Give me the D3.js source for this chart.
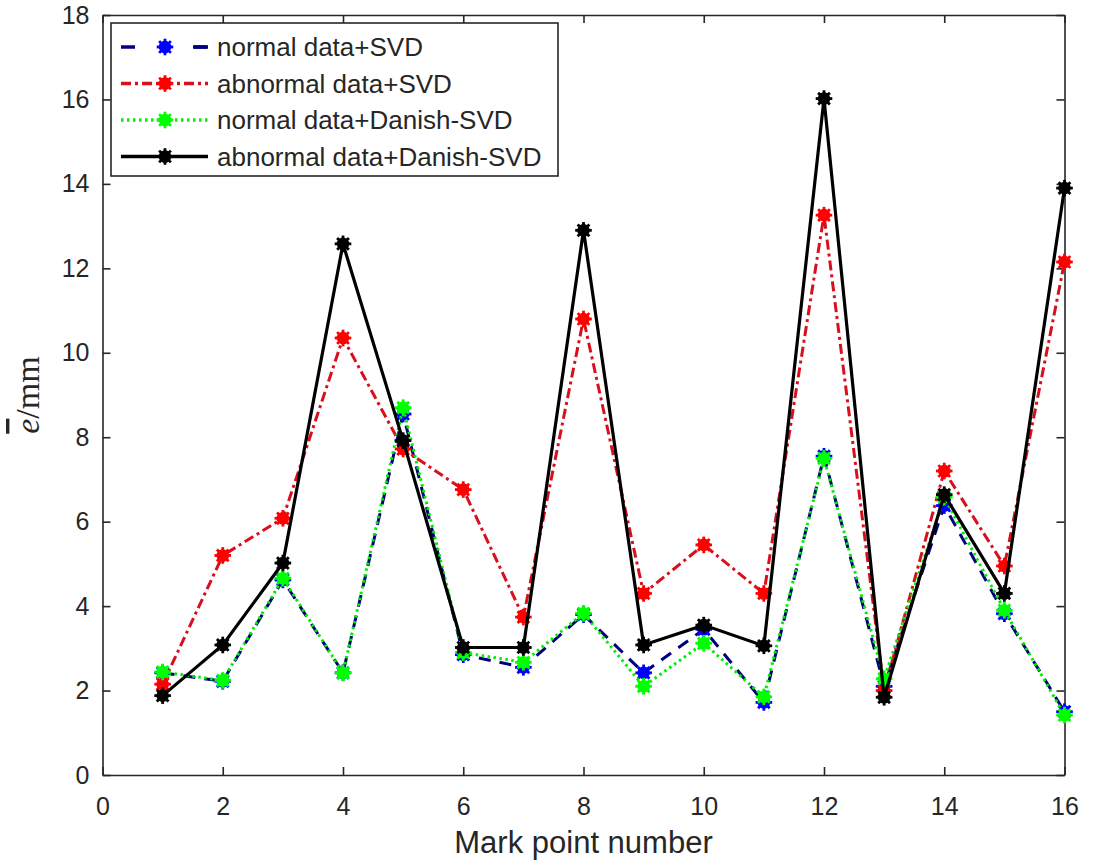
<!DOCTYPE html>
<html><head><meta charset="utf-8">
<script src="https://cdn.jsdelivr.net/npm/d3@7"></script>
<style>body{margin:0;background:#fff}</style>
</head><body>
<svg id="c" width="1099" height="867"></svg>
<script>
const points = [1,2,3,4,5,6,7,8,9,10,11,12,13,14,15,16];
const normalSVD = [2.42,2.22,4.62,2.42,8.55,2.85,2.55,3.8,2.42,3.45,1.72,7.55,2.1,6.38,3.82,1.5];
const abnormalSVD = [2.15,5.2,6.08,10.35,7.72,6.76,3.74,10.8,4.3,5.45,4.3,13.26,2.0,7.2,4.95,12.15];
const normalDanish = [2.44,2.24,4.66,2.42,8.7,2.9,2.67,3.83,2.1,3.12,1.85,7.5,2.28,6.58,3.9,1.42];
const abnormalDanish = [1.88,3.08,5.02,12.58,7.92,3.02,3.02,12.9,3.08,3.55,3.06,16.02,1.84,6.64,4.3,13.9];
const xTicks = [0,2,4,6,8,10,12,14,16];
const yTicks = [0,2,4,6,8,10,12,14,16,18];
const legendLabels = ["normal data+SVD","abnormal data+SVD","normal data+Danish-SVD","abnormal data+Danish-SVD"];

const svg = d3.select("#c");
const L=102.5, R=1064.5, T=15, B=775;
const x = d3.scaleLinear().domain([0,16]).range([L,R]);
const y = d3.scaleLinear().domain([0,18]).range([B,T]);
const axisCol="#262626", font="Liberation Sans, Arial, sans-serif";

const series = [
  {vals:normalSVD, line:"#00007f", mark:"#0000ff", dash:"12,9", w:3},
  {vals:abnormalSVD, line:"#d8101e", mark:"#ff0000", dash:"10,4,3,4", w:3},
  {vals:normalDanish, line:"#00ee00", mark:"#00ff00", dash:"2.5,3.5", w:3},
  {vals:abnormalDanish, line:"#000000", mark:"#000000", dash:null, w:3.2}
];

// axes frame with inward ticks
const ax = svg.append("g");
ax.append("g").attr("transform",`translate(0,${B})`).call(d3.axisBottom(x).tickValues(xTicks).tickSizeInner(-8).tickSizeOuter(0).tickPadding(22));
ax.append("g").attr("transform",`translate(0,${T})`).call(d3.axisTop(x).tickValues(xTicks).tickSizeInner(-8).tickSizeOuter(0).tickFormat(""));
ax.append("g").attr("transform",`translate(${L},0)`).call(d3.axisLeft(y).tickValues(yTicks).tickSizeInner(-8).tickSizeOuter(0).tickPadding(13));
ax.append("g").attr("transform",`translate(${R},0)`).call(d3.axisRight(y).tickValues(yTicks).tickSizeInner(-8).tickSizeOuter(0).tickFormat(""));
ax.selectAll("path.domain").attr("stroke",axisCol).attr("stroke-width",1.6);
ax.selectAll(".tick line").attr("stroke",axisCol).attr("stroke-width",1.6);
ax.selectAll(".tick text").attr("fill",axisCol).style("font-family",font).style("font-size","25px");

// lines & markers
const lineGen = d3.line().x((d,i)=>x(points[i])).y(d=>y(d));
function marker(g, cx, cy, col){
  g.append("circle").attr("cx",cx).attr("cy",cy).attr("r",6.3).attr("fill",col);
  for(let k=0;k<4;k++){
    const a=k*Math.PI/4, r=8.3;
    g.append("line").attr("x1",cx-r*Math.cos(a)).attr("y1",cy-r*Math.sin(a))
      .attr("x2",cx+r*Math.cos(a)).attr("y2",cy+r*Math.sin(a))
      .attr("stroke",col).attr("stroke-width",2.8);
  }
}
const plot = svg.append("g");
series.forEach(s=>{
  plot.append("path").datum(s.vals).attr("d",lineGen).attr("fill","none")
    .attr("stroke",s.line).attr("stroke-width",s.w).attr("stroke-dasharray",s.dash);
  const mg = plot.append("g");
  s.vals.forEach((v,i)=>marker(mg,x(points[i]),y(v),s.mark));
});

// legend
const lg = svg.append("g");
lg.append("rect").attr("x",111).attr("y",23).attr("width",447).attr("height",153)
  .attr("fill","#fff").attr("stroke",axisCol).attr("stroke-width",1.6);
series.forEach((s,i)=>{
  const ly = 47 + i*36.5;
  lg.append("line").attr("x1",121).attr("x2",208).attr("y1",ly).attr("y2",ly)
    .attr("stroke",s.line).attr("stroke-width",s.w+0.5)
    .attr("stroke-dasharray", i===0 ? "14,58" : s.dash);
  if(i===0) lg.append("line").attr("x1",194).attr("x2",208).attr("y1",ly).attr("y2",ly).attr("stroke",s.line).attr("stroke-width",s.w+0.5);
  marker(lg,165,ly,s.mark);
  lg.append("text").attr("x",217).attr("y",ly+9).text(legendLabels[i])
    .attr("fill",axisCol).style("font-family",font).style("font-size","26px");
});

// axis labels
svg.append("text").attr("x",(L+R)/2).attr("y",853).attr("text-anchor","middle")
  .attr("fill",axisCol).style("font-family",font).style("font-size","31px").text("Mark point number");
const yt = svg.append("text").attr("transform","translate(39,395) rotate(-90)").attr("text-anchor","middle")
  .attr("fill",axisCol).style("font-family","Liberation Serif, Times New Roman, serif").style("font-size","34px");
yt.append("tspan").style("font-style","italic").style("text-decoration","overline").text("e");
yt.append("tspan").text("/mm");
</script>
</body></html>
